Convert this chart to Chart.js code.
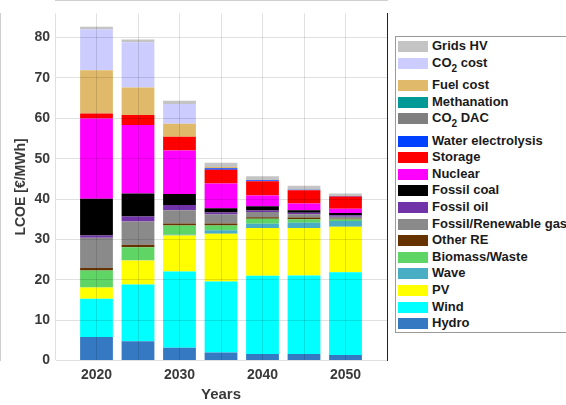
<!DOCTYPE html>
<html><head><meta charset="utf-8">
<script src="https://cdn.jsdelivr.net/npm/chart.js@4/dist/chart.umd.min.js"></script>
<style>
html,body{margin:0;padding:0;background:#fff;overflow:hidden;width:566px;height:405px;}
#wrap{position:relative;width:566px;height:405px;overflow:hidden;}
canvas{position:absolute;left:0;top:0;}
#legend{position:absolute;left:395px;top:36px;width:200px;border:1px solid #9a9a9a;background:#fff;padding:1px 0 0 2px;box-sizing:border-box;font:bold 13px "Liberation Sans",Arial,sans-serif;color:#1a1a1a;}
.row{display:flex;align-items:flex-start;height:16.6px;}
.row.sub{height:22.4px;}
.sw{width:30px;height:11px;margin-top:3px;flex:none;}
.tx{margin-left:4px;line-height:16.6px;white-space:nowrap;}
sub{font-size:10px;line-height:0;vertical-align:-5px;}
</style></head>
<body><div id="wrap"><canvas id="c" width="566" height="405"></canvas><div id="legend"></div></div>
<script>
const years = [2020, 2025, 2030, 2035, 2040, 2045, 2050];
const xTicks = [2015, 2020, 2025, 2030, 2035, 2040, 2045, 2050, 2055];
const xTickLabels = [2020, 2030, 2040, 2050];
const yTicks = [0, 10, 20, 30, 40, 50, 60, 70, 80];

const hydro       = [5.8, 4.8, 3.15, 2.0, 1.6, 1.6, 1.35];
const wind        = [9.5, 14.05, 18.9, 17.6, 19.4, 19.45, 20.5];
const pv          = [2.8, 5.9, 8.9, 11.8, 11.8, 11.75, 11.3];
const wave        = [0, 0.1, 0.2, 0.9, 1.1, 1.3, 1.4];
const biomass     = [4.2, 3.2, 2.3, 1.15, 1.2, 0.9, 0.4];
const otherRE     = [0.6, 0.6, 0.5, 0.5, 0.4, 0.4, 0.15];
const fossilGas   = [7.5, 5.8, 3.3, 2.2, 1.3, 0.85, 0.5];
const fossilOil   = [0.6, 1.2, 1.3, 0.55, 0.35, 0.35, 0.4];
const fossilCoal  = [9.1, 5.7, 2.7, 1.05, 1.05, 0.65, 0.55];
const nuclear     = [19.85, 17.0, 10.8, 6.1, 2.7, 1.65, 1.05];
const storage     = [1.25, 2.5, 3.4, 3.4, 3.5, 3.3, 3.05];
const waterElec   = [0, 0, 0, 0.4, 0.25, 0.1, 0.1];
const co2DAC      = [0, 0, 0, 0, 0, 0, 0];
const methanation = [0, 0, 0, 0, 0, 0, 0];
const fuelCost    = [10.7, 6.8, 3.2, 0.3, 0, 0, 0];
const co2Cost     = [10.2, 11.2, 4.9, 0, 0, 0, 0];
const gridsHV     = [0.6, 0.7, 0.8, 1.05, 1.0, 1.0, 0.65];

// bottom-to-top stacking order
const seriesNames = ['Hydro','Wind','PV','Wave','Biomass/Waste','Other RE','Fossil/Renewable gas','Fossil oil','Fossil coal','Nuclear','Storage','Water electrolysis','CO2 DAC','Methanation','Fuel cost','CO2 cost','Grids HV'];
const seriesData = [hydro, wind, pv, wave, biomass, otherRE, fossilGas, fossilOil, fossilCoal, nuclear, storage, waterElec, co2DAC, methanation, fuelCost, co2Cost, gridsHV];
const seriesColors = ['#3479c2','#00ffff','#ffff00','#49adc4','#5fd565','#663300','#8a8a8a','#7133a8','#000000','#ff00ff','#ff0000','#0040ff','#7f7f7f','#009a96','#e0ba6a','#ccccff','#c4c4c4'];

const FONT = '"Liberation Sans", Arial, sans-serif';
const TXT = '#3a3a3a';
const GRID = 'rgba(0,0,0,0.12)';

const datasets = seriesNames.map((n, i) => ({
  label: n.replace('CO2', 'CO\u2082'),
  data: years.map((yr, j) => ({x: yr, y: seriesData[i][j]})),
  backgroundColor: seriesColors[i],
  borderWidth: 0,
  categoryPercentage: 1,
  barPercentage: 0.79
}));

new Chart(document.getElementById('c'), {
  type: 'bar',
  data: {datasets},
  options: {
    responsive: false, animation: false, devicePixelRatio: 1,
    layout: {padding: {top: 11, right: 179, left: 0, bottom: 0}},
    plugins: {legend: {display: false}, tooltip: {enabled: false}},
    scales: {
      x: {
        type: 'linear', min: 2015, max: 2055, stacked: true, offset: false,
        afterBuildTicks: s => { s.ticks = xTicks.map(v => ({value: v})); },
        ticks: {autoSkip: false, maxRotation: 0, padding: 6, color: TXT,
          font: {family: FONT, size: 14, weight: 'bold'},
          callback: v => xTickLabels.includes(v) ? String(v) : ''},
        grid: {color: GRID, z: 1, drawTicks: false, offset: false},
        border: {color: '#a0a0a0'},
        title: {display: true, text: 'Years', color: TXT, padding: {top: 0, bottom: 1},
          font: {family: FONT, size: 15, weight: 'bold'}},
        afterFit: s => { s.height = 44.5; }
      },
      y: {
        min: 0, max: 86, stacked: true,
        afterBuildTicks: s => { s.ticks = yTicks.map(v => ({value: v})); },
        ticks: {padding: 5, color: TXT, font: {family: FONT, size: 14, weight: 'bold'}},
        grid: {color: GRID, z: 1, drawTicks: false},
        border: {color: '#a0a0a0'},
        title: {display: true, text: 'LCOE [€/MWh]', color: TXT, padding: {top: 13, bottom: 0},
          font: {family: FONT, size: 14, weight: 'bold'}},
        afterFit: s => { s.width = 55; }
      },
      y2: {
        position: 'right', display: true,
        grid: {display: false, drawTicks: false},
        ticks: {display: false},
        border: {color: '#262626'},
        afterFit: s => { s.width = 0; }
      }
    }
  }
});

// HTML legend (top-to-bottom = reverse stacking order)
const leg = document.getElementById('legend');
for (let i = seriesNames.length - 1; i >= 0; i--) {
  const name = seriesNames[i];
  const hasSub = name.indexOf('CO2') >= 0;
  const row = document.createElement('div');
  row.className = 'row' + (hasSub ? ' sub' : '');
  const sw = document.createElement('div');
  sw.className = 'sw'; sw.style.background = seriesColors[i];
  const tx = document.createElement('div');
  tx.className = 'tx';
  tx.innerHTML = name.replace('CO2', 'CO<sub>2</sub>');
  row.appendChild(sw); row.appendChild(tx);
  leg.appendChild(row);
}
</script></body></html>
